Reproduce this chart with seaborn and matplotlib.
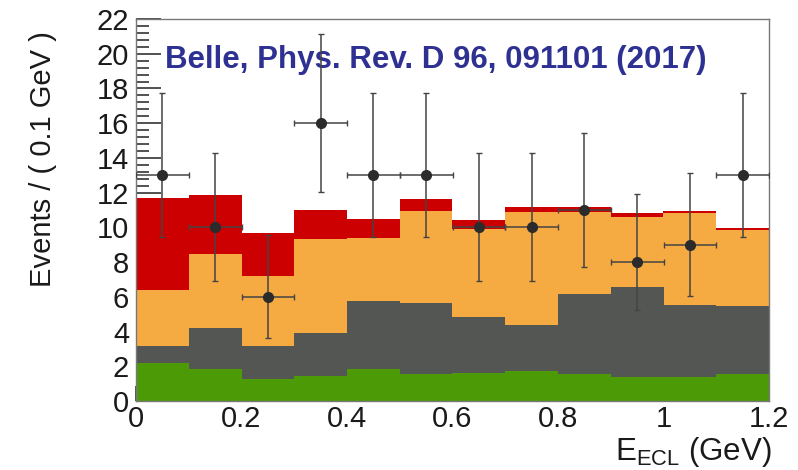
import numpy as np
import pandas as pd
import matplotlib
matplotlib.use("Agg")
import matplotlib.pyplot as plt
from matplotlib.ticker import MultipleLocator
import seaborn as sns

# Bin centres of E_ECL (GeV), bin width 0.1 GeV
e_ecl = [0.05, 0.15, 0.25, 0.35, 0.45, 0.55, 0.65, 0.75, 0.85, 0.95, 1.05, 1.15]

# Stacked background/signal components (events per bin)
green = [2.17, 1.84, 1.25, 1.44, 1.84, 1.56, 1.63, 1.75, 1.56, 1.40, 1.40, 1.56]
gray = [1.02, 2.35, 1.94, 2.50, 3.92, 4.07, 3.23, 2.63, 4.60, 5.15, 4.13, 3.91]
orange = [3.20, 4.26, 3.99, 5.37, 3.65, 5.31, 5.05, 6.49, 4.74, 4.07, 5.28, 4.40]
red = [5.29, 3.42, 2.48, 1.69, 1.07, 0.70, 0.52, 0.32, 0.27, 0.19, 0.15, 0.08]

# Observed events with asymmetric Poisson uncertainties
events = [13, 10, 6, 16, 13, 13, 10, 10, 11, 8, 9, 13]
err_lo = [3.55, 3.11, 2.38, 3.96, 3.55, 3.55, 3.11, 3.11, 3.27, 2.77, 2.95, 3.55]
err_hi = [4.72, 4.28, 3.58, 5.12, 4.72, 4.72, 4.28, 4.28, 4.43, 3.95, 4.12, 4.72]

x_ticks = [0, 0.2, 0.4, 0.6, 0.8, 1.0, 1.2]
x_ticklabels = ["0", "0.2", "0.4", "0.6", "0.8", "1", "1.2"]

components = [("green", green, "#4c9a06"),
              ("gray", gray, "#545653"),
              ("orange", orange, "#f6aa42"),
              ("red", red, "#cc0000")]

sns.set_style("ticks")
plt.rcParams["font.family"] = ["Liberation Sans", "DejaVu Sans"]
plt.rcParams["mathtext.fontset"] = "custom"
plt.rcParams["mathtext.rm"] = "Liberation Sans"

fig = plt.figure(figsize=(7.98, 4.70), dpi=100)
ax = fig.add_axes([136 / 798, 1 - 401 / 470, (769 - 136) / 798, (401 - 19) / 470])

# Stack: draw the cumulative totals from the top layer down so each
# lower component covers the part of the one above it.
cum = np.cumsum([vals for _, vals, _ in components], axis=0)
for (name, _, color), level in reversed(list(zip(components, cum))):
    sns.histplot(x=e_ecl, weights=level, binwidth=0.1, binrange=(0, 1.2),
                 element="bars", color=color, alpha=1.0, linewidth=0,
                 ax=ax)

ax.errorbar(e_ecl, events, yerr=[err_lo, err_hi], xerr=0.05,
            fmt="o", color="#2b2b2b", ecolor="#444444", markersize=7,
            elinewidth=1.1, capsize=2.5, capthick=1.0, zorder=5)

ax.set_xlim(0, 1.2)
ax.set_ylim(0, 22)
ax.xaxis.set_minor_locator(MultipleLocator(0.05))
ax.yaxis.set_major_locator(MultipleLocator(2))
ax.yaxis.set_minor_locator(MultipleLocator(0.4))
ax.set_xticks(x_ticks)
ax.set_xticklabels(x_ticklabels)
ax.tick_params(axis="both", which="both", direction="in", color="#333333",
               labelsize=21, labelcolor="#1a1a1a", top=False, right=False)
ax.tick_params(axis="y", which="major", length=18, width=1.2, pad=5)
ax.tick_params(axis="y", which="minor", length=9, width=1.2)
ax.tick_params(axis="x", which="major", length=11, width=1.2, pad=3)
ax.tick_params(axis="x", which="minor", length=6, width=1.2)
for sp in ax.spines.values():
    sp.set_color("#777777")
    sp.set_linewidth(1.0)
    sp.set_visible(True)

ax.set_xlabel("")
ax.set_ylabel("")
fig.text(43 / 798, 1 - 159 / 470, "Events / ( 0.1 GeV )", rotation=90,
         ha="center", va="center", fontsize=21, color="#1a1a1a")
fig.text(772 / 798, 1 - 460 / 470, r"E$_{\mathregular{ECL}}$ (GeV)",
         ha="right", va="baseline", fontsize=22.5, color="#1a1a1a")

ax.text(0.055, 19.18, "Belle, Phys. Rev. D 96, 091101 (2017)",
        fontsize=22.5, fontweight="bold", color="#2e3192",
        ha="left", va="baseline")

fig.savefig("out.png", dpi=100)
